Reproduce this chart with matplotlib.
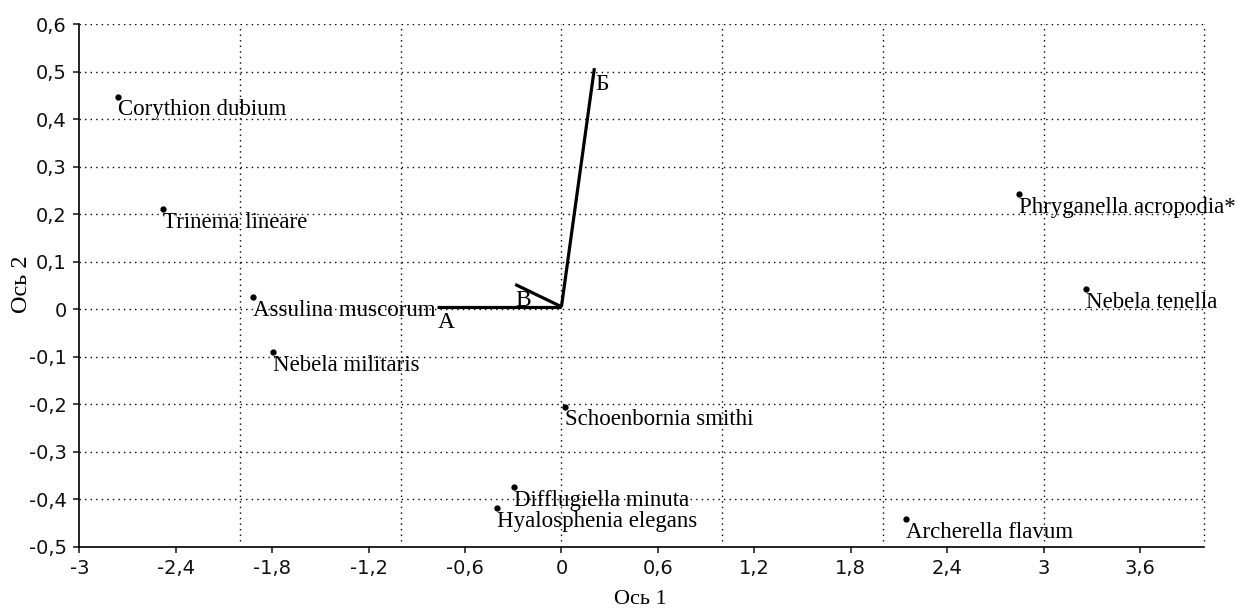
import matplotlib
matplotlib.use("Agg")
import matplotlib.pyplot as plt
from matplotlib.ticker import FixedLocator, FuncFormatter

# ---- data ----
species = ["Corythion dubium", "Trinema lineare", "Assulina muscorum",
           "Nebela militaris", "Schoenbornia smithi", "Difflugiella minuta",
           "Hyalosphenia elegans", "Archerella flavum",
           "Phryganella acropodia*", "Nebela tenella"]
axis1 = [-2.757, -2.477, -1.917, -1.796, 0.023, -0.294, -0.398, 2.145, 2.844, 3.266]
axis2 = [0.447, 0.211, 0.025, -0.091, -0.205, -0.374, -0.419, -0.442, 0.242, 0.042]

vec_names = ["A", "Б", "В"]
vec_x = [-0.776, 0.205, -0.288]
vec_y = [0.005, 0.507, 0.052]
vec_origin = (0.0, 0.005)

x_ticks = [-3, -2.4, -1.8, -1.2, -0.6, 0, 0.6, 1.2, 1.8, 2.4, 3, 3.6]
y_ticks = [-0.5, -0.4, -0.3, -0.2, -0.1, 0, 0.1, 0.2, 0.3, 0.4, 0.5, 0.6]
x_grid = [-2, -1, 0, 1, 2, 3, 4]
x_lim = (-3, 4)
y_lim = (-0.5, 0.6)
x_title = "Ось 1"
y_title = "Ось 2"

# ---- figure ----
W, H = 1250, 613
fig = plt.figure(figsize=(W / 100, H / 100), dpi=100)
ax = fig.add_axes([79.3 / W, 1 - 546.7 / H, 1125 / W, 522.7 / H])

ax.set_xlim(*x_lim)
ax.set_ylim(*y_lim)

for s in ["top", "right"]:
    ax.spines[s].set_visible(False)
for s in ["left", "bottom"]:
    ax.spines[s].set_linewidth(1.2)
    ax.spines[s].set_color("black")

ax.xaxis.set_major_locator(FixedLocator(x_ticks))
ax.yaxis.set_major_locator(FixedLocator(y_ticks))


def fmt(v, pos=None):
    if abs(v) < 1e-9:
        return "0"
    s = ("%.1f" % v).rstrip("0").rstrip(".")
    return s.replace(".", ",")


ax.xaxis.set_major_formatter(FuncFormatter(fmt))
ax.yaxis.set_major_formatter(FuncFormatter(fmt))
ax.tick_params(which="major", direction="out", length=4, width=1.1,
               labelsize=14, colors="#111111", pad=5)
for lab in ax.get_xticklabels() + ax.get_yticklabels():
    lab.set_family("DejaVu Sans")

dot_style = dict(color="black", linestyle=(0, (1, 3)), linewidth=1.0)
ax.grid(False)
for gx in x_grid:
    ax.plot([gx, gx], [y_lim[0] + 0.012, y_lim[1]], **dot_style, zorder=1,
            clip_on=False)
for gy in y_ticks[1:]:
    ax.axhline(gy, **dot_style, zorder=1)

# points
ax.plot(axis1, axis2, "o", color="black", markersize=3.5, zorder=3)
for name, x, y in zip(species, axis1, axis2):
    ax.annotate(name, (x, y), xytext=(0, -2), textcoords="offset points",
                ha="left", va="top", fontsize=16.5, family="Liberation Serif",
                zorder=4)

# vectors
for name, x, y in zip(vec_names, vec_x, vec_y):
    ax.plot([vec_origin[0], x], [vec_origin[1], y], color="black",
            linewidth=2.3, solid_capstyle="butt", zorder=3)
    ax.annotate(name, (x, y), xytext=(0.5, -4), textcoords="offset points",
                ha="left", va="top", fontsize=17, family="Liberation Serif",
                zorder=4)

fig.text(640 / W, 1 - 599 / H, x_title, ha="center", va="center",
         fontsize=16, family="Liberation Serif")
fig.text(21.5 / W, 1 - 284 / H, y_title, ha="center", va="center",
         rotation=90, fontsize=17.5, family="Liberation Serif")

fig.savefig("out.png", dpi=100)
